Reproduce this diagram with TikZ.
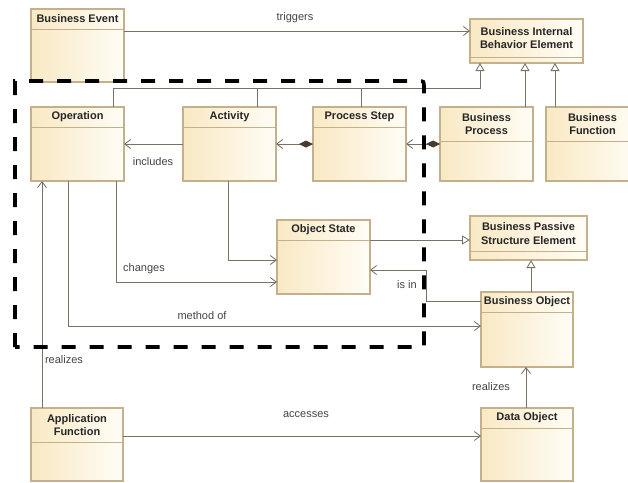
\documentclass[tikz,border=0pt]{standalone}
\usepackage{fontspec}
\setmainfont{Liberation Sans}
\usetikzlibrary{arrows.meta}

\definecolor{boxleft}{RGB}{249,233,196}
\definecolor{boxright}{RGB}{255,253,246}
\definecolor{boxedge}{RGB}{196,176,138}
\definecolor{wirecol}{RGB}{122,112,100}
\definecolor{diamondfill}{RGB}{72,58,44}
\definecolor{labeltext}{RGB}{68,68,68}

\tikzset{
  classbox/.style={draw=boxedge, line width=1.1pt, left color=boxleft, right color=boxright,
    inner sep=0pt, outer sep=0pt, anchor=north west},
  classdiv/.style={draw=boxedge, line width=0.9pt},
  classname/.style={font=\bfseries\fontsize{11}{13.5}\selectfont, align=center,
    text=black!85, inner sep=0pt},
  wirelabel/.style={font=\fontsize{11}{13}\selectfont, text=labeltext, inner sep=0pt},
  wire/.style={draw=wirecol, line width=0.85pt},
  assoc/.style={wire, -{Straight Barb[length=6pt,width=9pt]}},
  gen/.style={wire, -{Triangle[open,fill=white,length=8pt,width=9pt]}},
  comp/.style={wire, {Diamond[length=14pt,width=7pt,fill=diamondfill,color=diamondfill]}-{Straight Barb[length=6pt,width=9pt]}},
  scopeframe/.style={draw=black, line width=3.6pt, dash pattern=on 14pt off 14pt},
}

% name, left, top, right, bottom, header divider, title
\newcommand\umlclass[7]{%
  \node[classbox, minimum width={(#4-#2)*1pt}, minimum height={(#5-#3)*1pt}] (#1) at (#2,#3) {};
  \draw[classdiv] (#2,#6) -- (#4,#6);
  \node[classname] (#1-title) at ({(#2+#4)/2},{(#3+#6)/2}) {#7};
}

\begin{document}
\begin{tikzpicture}[x=1pt, y=-1pt]
\clip (0,0) rectangle (628,482);
\fill[white] (0,0) rectangle (628,482);

% classes
\umlclass{be}{31}{9}{124}{82}{29}{Business Event}
\umlclass{bibe}{470}{19}{583}{63}{57}{Business Internal\\Behavior Element}
\umlclass{op}{31}{107}{124}{181}{127}{Operation}
\umlclass{act}{183}{107}{276}{181}{127}{Activity}
\umlclass{ps}{313}{107}{406}{181}{127}{Process Step}
\umlclass{bp}{440}{107}{533}{181}{141}{Business\\Process}
\umlclass{bf}{546}{107}{639}{181}{141}{Business\\Function}
\umlclass{os}{277}{220}{370}{294}{240}{Object State}
\umlclass{bpse}{470}{216}{587}{260}{251}{Business Passive\\Structure Element}
\umlclass{bo}{481}{292}{573}{367}{312}{Business Object}
\umlclass{af}{31}{408}{123}{481}{442}{Application\\Function}
\umlclass{do}{481}{408}{573}{481}{428}{Data Object}

% triggers
\coordinate (trig) at ([yshift=14.5pt]be.east);
\draw[assoc] (trig) -- (trig -| bibe.west);

% generalisations towards the behaviour element
\coordinate (gj) at ([xshift=-46.5pt]bibe.south |- 0,88);
\draw[gen] ([xshift=35.5pt]op.north) |- (gj) -- ([xshift=-46.5pt]bibe.south);
\draw[wire] ([xshift=27.5pt]act.north) -- ([xshift=27.5pt]act.north |- gj);
\draw[wire] ([xshift=1.5pt]ps.north) -- ([xshift=1.5pt]ps.north |- gj);
\draw[gen] ([xshift=38.5pt]bp.north) -- ([xshift=38.5pt]bp.north |- bibe.south);
\draw[gen] ([xshift=-37.5pt]bf.north) -- ([xshift=-37.5pt]bf.north |- bibe.south);

% includes / composition
\draw[assoc] (act.west) -- (op.east);
\draw[comp] (ps.west) -- (act.east);
\draw[comp] (bp.west) -- (ps.east);

% object state links
\draw[assoc] ([xshift=-1.5pt]act.south) |- ([yshift=-3pt]os.west);
\draw[assoc] ([xshift=38.5pt]op.south) |- ([yshift=-25pt]os.west);
\draw[assoc] ([xshift=-9.5pt]op.south) |- ([yshift=3.5pt]bo.west);
\coordinate (osg) at ([yshift=17pt]os.east);
\draw[gen] (osg) -- (osg -| bpse.west);
\draw[assoc] ([yshift=28.5pt]bo.west) -- ++(-55,0) |- ([yshift=-13pt]os.east);
\draw[gen] ([xshift=4pt]bo.north) -- ([xshift=4pt]bo.north |- bpse.south);

% realisation and access
\draw[assoc] ([xshift=-35pt]af.north) -- ([xshift=-35pt]af.north |- op.south);
\draw[assoc] ([xshift=-1pt]do.north) -- ([xshift=-1pt]do.north |- bo.south);
\coordinate (acc) at ([yshift=8.5pt]af.east);
\draw[assoc] (acc) -- (acc -| do.west);

% connector labels
\node[wirelabel] (l-trig) at (295,18) {triggers};
\node[wirelabel] (l-incl) at (153,162) {includes};
\node[wirelabel] (l-chg) at (144,269) {changes};
\node[wirelabel] (l-meth) at (202,316) {method of};
\node[wirelabel] (l-isin) at (407,285) {is in};
\node[wirelabel] (l-real1) at (64,360) {realizes};
\node[wirelabel] (l-real2) at (491,387) {realizes};
\node[wirelabel] (l-acc) at (306,415) {accesses};

% dashed scope frame
\draw[scopeframe] (15,347) -- (15,81) -- (418,81) .. controls (424,81) .. (424,87) -- (424,347) -- cycle;
\end{tikzpicture}
\end{document}
